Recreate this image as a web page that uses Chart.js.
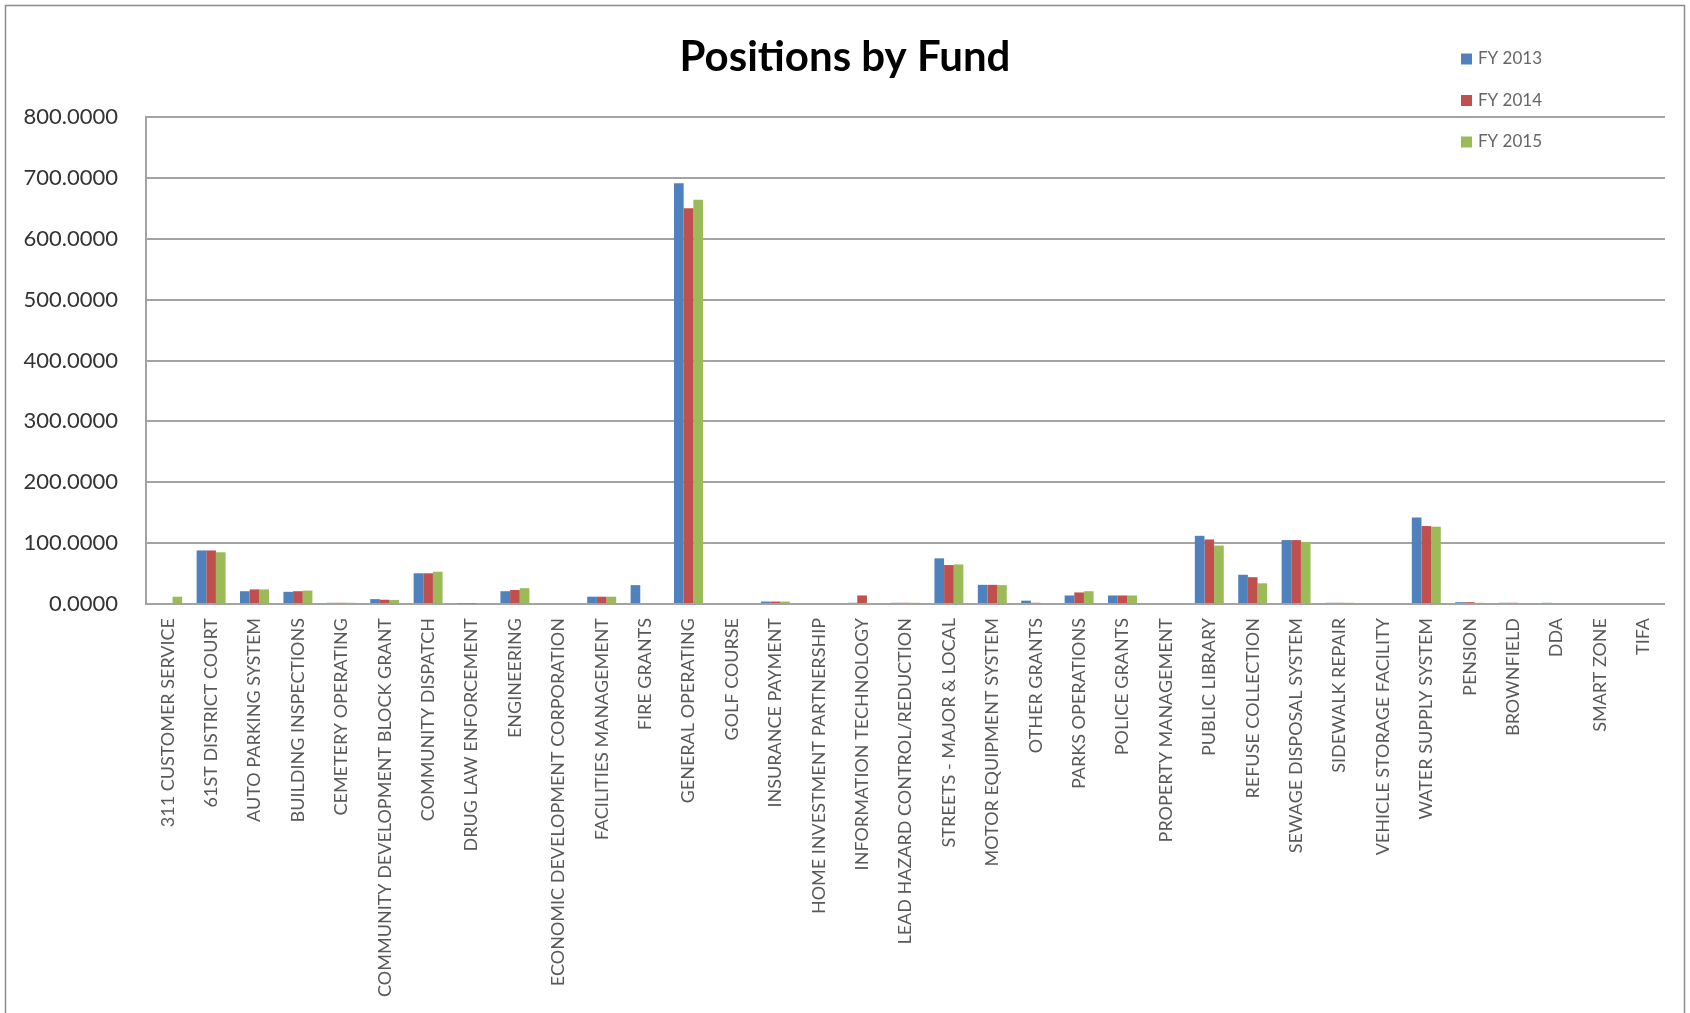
<!DOCTYPE html>
<html>
<head>
<meta charset="utf-8">
<title>Positions by Fund</title>
<script src="https://cdn.jsdelivr.net/npm/chart.js@4.4.1/dist/chart.umd.min.js"></script>
<style>
  html, body { margin: 0; padding: 0; background: #fff; }
  canvas { display: block; }
</style>
</head>
<body>
<canvas id="chart" width="1690" height="1013"></canvas>
<script>
const funds = [
  "311 CUSTOMER SERVICE", "61ST DISTRICT COURT", "AUTO PARKING SYSTEM", "BUILDING INSPECTIONS",
  "CEMETERY OPERATING", "COMMUNITY DEVELOPMENT BLOCK GRANT", "COMMUNITY DISPATCH",
  "DRUG LAW ENFORCEMENT", "ENGINEERING", "ECONOMIC DEVELOPMENT CORPORATION",
  "FACILITIES MANAGEMENT", "FIRE GRANTS", "GENERAL OPERATING", "GOLF COURSE",
  "INSURANCE PAYMENT", "HOME INVESTMENT PARTNERSHIP", "INFORMATION TECHNOLOGY",
  "LEAD HAZARD CONTROL/REDUCTION", "STREETS - MAJOR & LOCAL", "MOTOR EQUIPMENT SYSTEM",
  "OTHER GRANTS", "PARKS OPERATIONS", "POLICE GRANTS", "PROPERTY MANAGEMENT",
  "PUBLIC LIBRARY", "REFUSE COLLECTION", "SEWAGE DISPOSAL SYSTEM", "SIDEWALK REPAIR",
  "VEHICLE STORAGE FACILITY", "WATER SUPPLY SYSTEM", "PENSION", "BROWNFIELD",
  "DDA", "SMART ZONE", "TIFA"
];

const fy2013 = [0, 88, 21, 20, 2, 8, 50.5, 1, 21, 0, 12, 31, 691, 0, 4, 0, 2, 2, 75, 31.5,
  5.5, 14, 14, 0, 112, 48, 105, 2, 0, 142, 3, 2, 2, 0, 0];
const fy2014 = [0, 88, 24, 21, 2, 7, 50.5, 1, 23, 0, 12, 0, 650, 0, 4, 0, 14, 2, 64, 31.5,
  2, 19, 14, 0, 106, 44, 105, 2, 0, 128, 3, 2, 0, 0, 0];
const fy2015 = [12, 85, 24, 22, 2, 6.5, 53, 1, 26, 0, 12, 0, 664, 0, 4, 0, 1, 2, 65, 31,
  1, 21, 14, 0, 96, 34, 102, 2, 0, 127, 2, 1, 0, 0, 0];

const yearLabels = ["FY 2013", "FY 2014", "FY 2015"];
const yTicks = [0, 100, 200, 300, 400, 500, 600, 700, 800];

const COLORS = ["#4F81BD", "#C0504D", "#9BBB59"];
const GRID = "#a3a3a3";
const FONT = "Lato, 'Open Sans', sans-serif";

// white page with a thin frame around the whole chart
const frame = {
  id: "frame",
  beforeDraw(chart) {
    const { ctx, width } = chart;
    ctx.save();
    ctx.fillStyle = "#fff";
    ctx.fillRect(0, 0, width, chart.height);
    ctx.strokeStyle = "#8c8c8c";
    ctx.lineWidth = 1.5;
    ctx.strokeRect(5.5, 5.5, width - 11, chart.height + 20);
    ctx.restore();
  }
};

// stacked legend sitting in the upper right corner
const cornerLegend = {
  id: "cornerLegend",
  afterDraw(chart) {
    const { ctx } = chart;
    ctx.save();
    ctx.font = "17px " + FONT;
    ctx.textBaseline = "middle";
    chart.data.datasets.forEach((ds, i) => {
      const y = 59 + i * 41.5;
      ctx.fillStyle = ds.backgroundColor;
      ctx.fillRect(1461, y - 5.5, 11, 11);
      ctx.fillStyle = "#666";
      ctx.fillText(ds.label, 1478, y);
    });
    ctx.restore();
  }
};

new Chart(document.getElementById("chart"), {
  type: "bar",
  data: {
    labels: funds,
    datasets: [fy2013, fy2014, fy2015].map((values, i) => ({
      label: yearLabels[i],
      data: values,
      backgroundColor: COLORS[i],
      borderWidth: 0,
      categoryPercentage: 0.667,
      barPercentage: 1
    }))
  },
  options: {
    responsive: false,
    animation: false,
    devicePixelRatio: 1,
    layout: { padding: 0 },
    scales: {
      x: {
        grid: { display: false, drawTicks: false },
        border: { display: false },
        afterFit: s => { s.height = 1013 - 604; },
        ticks: {
          autoSkip: false,
          minRotation: 90,
          maxRotation: 90,
          padding: 14,
          color: "#595959",
          font: { family: FONT, size: 18 }
        }
      },
      y: {
        min: 0,
        max: 800,
        afterFit: s => { s.width = 146; },
        afterBuildTicks: s => { s.ticks = yTicks.map(v => ({ value: v })); },
        grid: { color: GRID, lineWidth: 2, drawTicks: false },
        border: { display: true, color: GRID, width: 2 },
        ticks: {
          padding: 28,
          color: "#333",
          font: { family: FONT, size: 22 },
          callback: v => v.toFixed(4)
        }
      },
      // empty strip on the right so the title stays centred on the whole frame
      gutter: {
        position: "right",
        min: 0,
        max: 800,
        afterFit: s => { s.width = 25; },
        grid: { display: false, drawTicks: false },
        border: { display: false },
        ticks: { display: false }
      }
    },
    plugins: {
      legend: { display: false },
      tooltip: { enabled: false },
      title: {
        display: true,
        text: "Positions by Fund",
        color: "#000",
        font: { family: FONT, size: 42, weight: "bold", lineHeight: 1.2 },
        padding: { top: 32, bottom: 34.6 }
      }
    }
  },
  plugins: [frame, cornerLegend]
});
</script>
</body>
</html>
